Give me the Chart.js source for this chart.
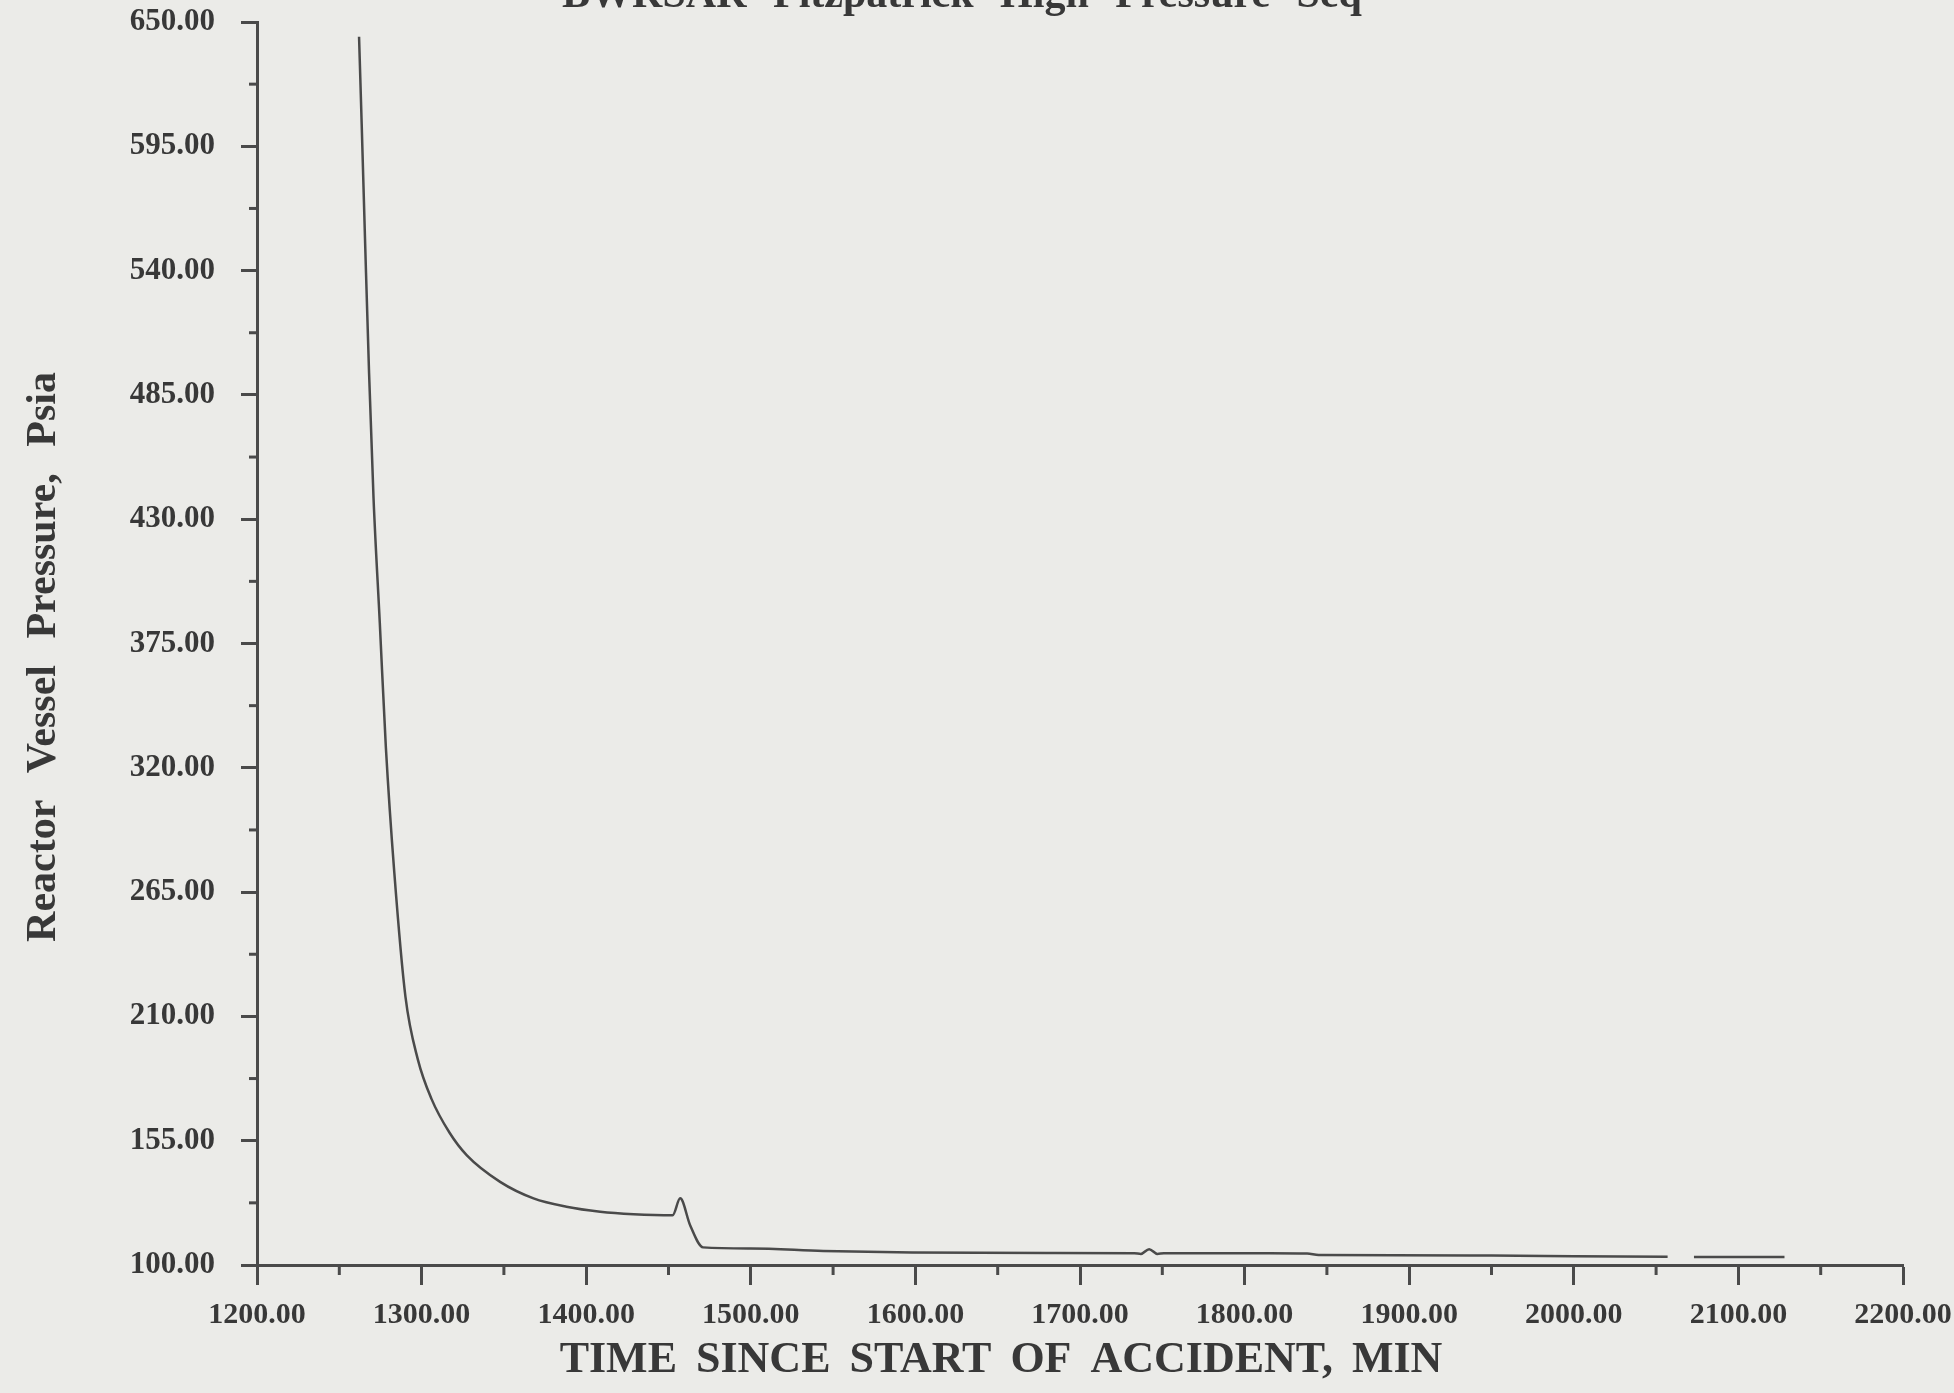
<!DOCTYPE html>
<html><head><meta charset="utf-8">
<script src="https://cdn.jsdelivr.net/npm/chart.js@4.4.1/dist/chart.umd.min.js"></script>
<style>
html,body{margin:0;padding:0;background:#ebebe8;}
#wrap{position:relative;width:1954px;height:1393px;overflow:hidden;}
canvas{display:block;}
</style></head><body>
<div id="wrap"><canvas id="c" width="1954" height="1393"></canvas></div>
<script>
// ---- text ----
const chartTitle = "BWRSAR Fitzpatrick High Pressure Seq";
const xAxisTitle = "TIME SINCE START OF ACCIDENT, MIN";
const yAxisTitle = "Reactor Vessel Pressure, Psia";

// ---- ticks ----
const xTickValues = [1200, 1300, 1400, 1500, 1600, 1700, 1800, 1900, 2000, 2100, 2200];
const xTickLabels = ["1200.00", "1300.00", "1400.00", "1500.00", "1600.00", "1700.00", "1800.00", "1900.00", "2000.00", "2100.00", "2200.00"];
const xMinorTicks = [1250, 1350, 1450, 1550, 1650, 1750, 1850, 1950, 2050, 2150];
const yTickValues = [100, 155, 210, 265, 320, 375, 430, 485, 540, 595, 650];
const yTickLabels = ["100.00", "155.00", "210.00", "265.00", "320.00", "375.00", "430.00", "485.00", "540.00", "595.00", "650.00"];
const yMinorTicks = [127.5, 182.5, 237.5, 292.5, 347.5, 402.5, 457.5, 512.5, 567.5, 622.5];

// ---- series ----
const timeMin = [1262.0, 1263.6, 1265.8, 1268.1, 1270.8, 1274.6, 1278.3, 1283.4, 1290.2, 1297.7,
  1306.0, 1317.0, 1327.5, 1347.7, 1368.0, 1388.0, 1408.5, 1428.8, 1452.5, 1457.1,
  1463.2, 1471.0, 1500.0, 1544.0, 1598.0, 1680.0, 1733.0, 1737.0, 1742.0, 1747.0,
  1751.0, 1815.0, 1838.0, 1845.0, 1950.0, 2000.0, 2057.0, 2065.0, 2073.0, 2128.0];
const pressurePsia = [643.5, 604.8, 549.6, 494.4, 439.3, 384.1, 328.9, 273.8, 218.6, 191.0,
  173.5, 158.5, 148.5, 136.8, 129.5, 125.8, 123.6, 122.5, 122.0, 129.5,
  117.5, 107.8, 107.3, 106.2, 105.5, 105.3, 105.2, 104.9, 107.0, 104.9,
  105.2, 105.2, 105.1, 104.4, 104.2, 103.9, 103.6, null, 103.5, 103.5];

const points = timeMin.map((t, i) => ({x: t, y: pressurePsia[i]}));

const INK = '#4a4a4a';
const TEXT = '#383838';
const SERIF = "'Liberation Serif', 'Times New Roman', serif";

const decor = {
  id: 'decor',
  afterDraw(chart) {
    const {ctx, chartArea, scales: {x, y}} = chart;
    ctx.save();
    ctx.strokeStyle = INK;
    ctx.lineWidth = 3;
    xMinorTicks.forEach(v => {
      const px = x.getPixelForValue(v);
      ctx.beginPath(); ctx.moveTo(px, chartArea.bottom); ctx.lineTo(px, chartArea.bottom + 10); ctx.stroke();
    });
    yMinorTicks.forEach(v => {
      const py = y.getPixelForValue(v);
      ctx.beginPath(); ctx.moveTo(chartArea.left - 8, py); ctx.lineTo(chartArea.left, py); ctx.stroke();
    });
    ctx.fillStyle = TEXT;
    // top title (cut off by page edge)
    ctx.font = "bold 42px " + SERIF;
    if ('wordSpacing' in ctx) ctx.wordSpacing = '16px';
    ctx.textAlign = 'center';
    ctx.textBaseline = 'alphabetic';
    ctx.fillText(chartTitle, 962, 7);
    // x title
    ctx.font = "bold 44px " + SERIF;
    if ('wordSpacing' in ctx) ctx.wordSpacing = '8px';
    ctx.textBaseline = 'middle';
    ctx.fillText(xAxisTitle, 1001, 1361);
    // y title
    ctx.translate(44, 657);
    ctx.rotate(-Math.PI / 2);
    ctx.font = "bold 42px " + SERIF;
    if ('wordSpacing' in ctx) ctx.wordSpacing = '16px';
    ctx.fillText(yAxisTitle, 0, 0);
    ctx.restore();
  }
};

new Chart(document.getElementById('c'), {
  type: 'line',
  data: {
    datasets: [{
      data: points,
      borderColor: INK,
      borderWidth: 2.5,
      pointRadius: 0,
      fill: false,
      spanGaps: false,
      cubicInterpolationMode: 'monotone'
    }]
  },
  options: {
    responsive: false,
    devicePixelRatio: 1,
    animation: false,
    layout: {padding: {top: 22, right: 51, bottom: 0, left: 0}},
    plugins: {legend: {display: false}, tooltip: {enabled: false}, title: {display: false}},
    scales: {
      x: {
        type: 'linear', min: 1200, max: 2200,
        afterBuildTicks: s => { s.ticks = xTickValues.map(v => ({value: v})); },
        afterFit: s => { s.height = 128; s.paddingLeft = 0; s.paddingRight = 0; },
        ticks: {
          autoSkip: false, maxRotation: 0, padding: 12, color: TEXT,
          font: {family: SERIF, weight: 'bold', size: 30},
          callback: (v, i) => xTickLabels[i]
        },
        grid: {drawOnChartArea: false, drawTicks: true, tickLength: 20, tickWidth: 3, tickColor: INK},
        border: {display: true, color: INK, width: 3}
      },
      y: {
        type: 'linear', min: 100, max: 650,
        afterBuildTicks: s => { s.ticks = yTickValues.map(v => ({value: v})); },
        afterFit: s => { s.width = 257; s.paddingTop = 0; s.paddingBottom = 0; },
        ticks: {
          autoSkip: false, padding: 26, color: TEXT,
          font: {family: SERIF, weight: 'bold', size: 31},
          callback: (v, i) => yTickLabels[i]
        },
        grid: {drawOnChartArea: false, drawTicks: true, tickLength: 16, tickWidth: 3, tickColor: INK},
        border: {display: true, color: INK, width: 3}
      }
    }
  },
  plugins: [decor]
});
</script>
</body></html>
